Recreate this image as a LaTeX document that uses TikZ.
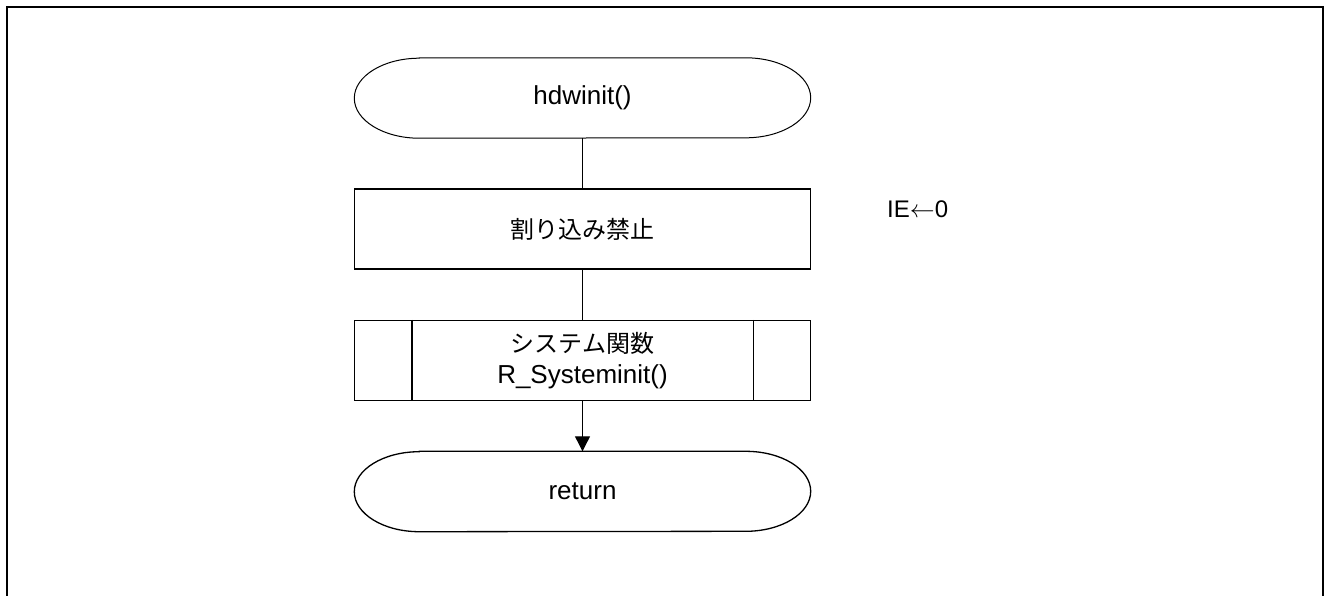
\documentclass[tikz,border=0pt]{standalone}
\usepackage{fontspec}
\setmainfont{Liberation Sans}
\newfontfamily\jpfont{Noto Sans CJK JP}
\usetikzlibrary{arrows.meta}
\newcommand\termoutline[2]{\draw[#2] ([xshift=65pt]#1.north west) -- ([xshift=-65pt]#1.north east) arc[start angle=90,end angle=-90,x radius=65pt,y radius=40pt] -- ([xshift=65pt]#1.south west) arc[start angle=270,end angle=90,x radius=65pt,y radius=40pt] -- cycle;}
\tikzset{
  lat/.style={font=\fontsize{26}{31}\selectfont},
  term/.style={lat, minimum width=456pt, minimum height=80pt, inner sep=0pt},
  procbox/.style={draw, line width=1.3pt, minimum width=456pt, minimum height=80pt, inner sep=0pt, align=center, font=\fontsize{26}{31}\selectfont},
  conn/.style={line width=1.1pt},
}
\begin{document}
\begin{tikzpicture}[x=1pt,y=1pt]
\useasboundingbox (0,0) rectangle (1326,-595);
\draw[line width=2pt] (7,-620) -- (7,-7) -- (1323,-7) -- (1323,-620);
\node[term] (start) at (582.5,-98) {hdwinit()};
\termoutline{start}{line width=1pt}
\node[procbox] (dis) at (582.5,-229) {\jpfont\fontsize{24}{30}\selectfont 割り込み禁止};
\node[procbox] (sub) at (582.5,-360.5) {{\jpfont\fontsize{24}{31}\selectfont システム関数}\\{\fontsize{26}{31}\selectfont R\_Systeminit()}};
\draw[line width=1.3pt] ([xshift=58pt]sub.north west) -- ([xshift=58pt]sub.south west);
\draw[line width=1.3pt] ([xshift=-58pt]sub.north east) -- ([xshift=-58pt]sub.south east);
\node[term] (ret) at (582.5,-491.5) {return};
\termoutline{ret}{line width=1.3pt}
\node[font=\fontsize{24}{28}\selectfont, anchor=west, inner sep=0pt] (ie) at (887,-209) {IE$\leftarrow$0};
\draw[conn] (start.south) -- (dis.north);
\draw[conn] (dis.south) -- (sub.north);
\draw[conn, -{Triangle[length=15pt,width=15pt]}] (sub.south) -- (ret.north);
\end{tikzpicture}
\end{document}
